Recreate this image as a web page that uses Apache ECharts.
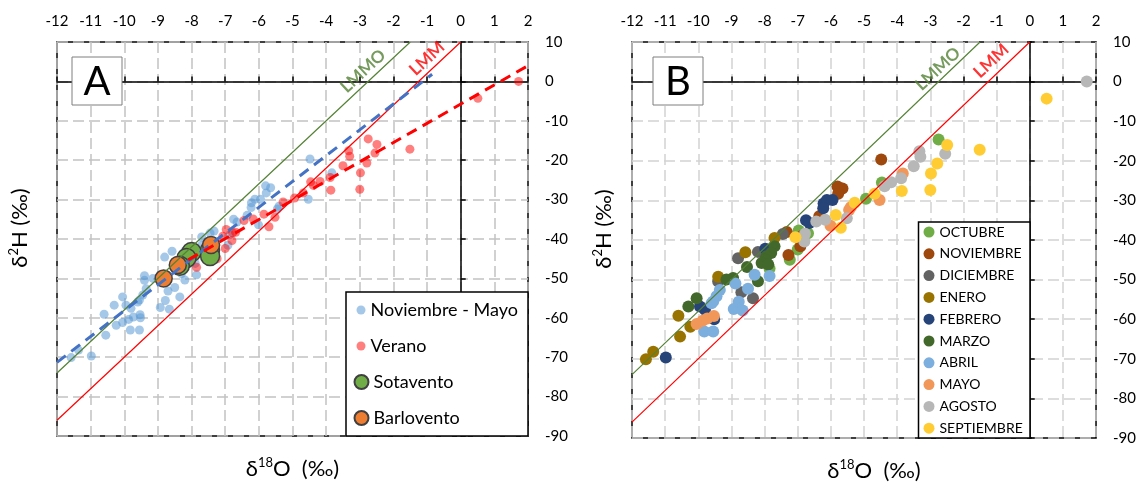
<!DOCTYPE html>
<html><head><meta charset="utf-8">
<script src="https://cdn.jsdelivr.net/npm/echarts@6/dist/echarts.min.js"></script>
<style>html,body{margin:0;padding:0;background:#fff}#c{width:1139px;height:490px}</style>
</head><body><div id="c"></div>
<script>
// ---- tick labels ----
const xTickLabels = [-12,-11,-10,-9,-8,-7,-6,-5,-4,-3,-2,-1,0,1,2];
const yTickLabels = [10,0,-10,-20,-30,-40,-50,-60,-70,-80,-90];

// ---- panel B monthly data [d18O, d2H] ----
const OCTUBRE = [[-2.75,-14.6],[-4.46,-25.5],[-4.94,-29.6],[-6.97,-37.6],[-6.69,-38.3],[-7.0,-42.4],[-7.24,-45.0],[-7.85,-47.2]];
const NOVIEMBRE = [[-4.48,-19.7],[-5.8,-26.5],[-5.65,-27.0],[-5.78,-28.3],[-6.35,-34.0],[-7.33,-38.0],[-6.86,-38.9],[-6.92,-41.6],[-7.28,-43.8]];
const DICIEMBRE = [[-7.45,-38.5],[-8.2,-43.0],[-8.8,-44.6],[-9.4,-50.5],[-8.7,-53.2],[-8.35,-54.7]];
const ENERO = [[-7.7,-39.5],[-8.58,-43.1],[-9.4,-49.3],[-10.6,-59.1],[-10.24,-61.9],[-10.55,-64.4],[-11.36,-68.2],[-11.58,-70.1]];
const FEBRERO = [[-6.22,-30.8],[-6.12,-29.9],[-5.95,-29.9],[-6.23,-32.0],[-6.75,-35.0],[-6.65,-35.7],[-7.98,-42.2],[-9.95,-56.8],[-9.8,-57.6],[-9.52,-60.0],[-10.98,-69.7]];
const MARZO = [[-7.7,-41.6],[-7.8,-43.3],[-7.94,-44.1],[-7.99,-45.0],[-8.09,-45.8],[-7.89,-46.2],[-8.53,-46.8],[-8.2,-50.4],[-8.95,-49.6],[-9.15,-50.0],[-10.05,-54.7],[-10.3,-56.8]];
const ABRIL = [[-8.3,-48.8],[-7.85,-49.1],[-8.88,-51.0],[-8.5,-52.3],[-9.35,-52.6],[-9.45,-54.2],[-9.55,-55.5],[-9.6,-56.0],[-8.78,-55.6],[-8.93,-57.4],[-8.66,-57.8],[-9.82,-63.1],[-9.55,-63.1]];
const MAYO = [[-10.05,-61.2],[-9.87,-60.4],[-9.73,-59.8],[-9.53,-59.2],[-6.01,-36.4],[-5.45,-32.4],[-5.4,-31.7],[-4.53,-29.9],[-3.83,-23.2]];
const AGOSTO = [[1.72,0.0],[-3.33,-17.6],[-3.3,-19.0],[-2.55,-18.2],[-3.5,-21.4],[-3.88,-24.4],[-4.18,-25.4],[-4.38,-26.4],[-5.52,-34.5],[-6.17,-34.9],[-6.44,-35.3],[-6.8,-40.4],[-6.78,-38.4]];
const SEPTIEMBRE = [[0.51,-4.3],[-2.49,-16.0],[-1.51,-17.2],[-2.79,-20.7],[-2.98,-23.2],[-3.0,-27.4],[-3.86,-27.6],[-4.68,-28.3],[-5.28,-30.6],[-5.85,-33.7],[-5.7,-36.9],[-7.07,-39.3]];

// ---- panel A: station means ----
const sotavento = [[-8.0,-43.3],[-8.15,-44.8],[-8.35,-46.8],[-7.45,-42.8],[-7.45,-44.3]];
const barlovento = [[-8.83,-50.0],[-8.41,-46.6],[-7.42,-41.5]];

// ---- lines (end points) ----
const lmmLine = [[-12,-86],[0,10]];
const lmmoLine = [[-12,-74],[-1.5,10]];
const novMayoFit = [[-12,-71.3],[-0.85,1.8]];
const veranoFit = [[-8.1,-45.3],[2,4.0]];
const labelPosA = {LMMO:[-2.9,2.6], LMM:[-1.0,5.8]};
const labelPosB = {LMMO:[-2.77,3.2], LMM:[-1.16,5.2]};

const months = ['OCTUBRE','NOVIEMBRE','DICIEMBRE','ENERO','FEBRERO','MARZO','ABRIL','MAYO','AGOSTO','SEPTIEMBRE'];
const monthData = [OCTUBRE,NOVIEMBRE,DICIEMBRE,ENERO,FEBRERO,MARZO,ABRIL,MAYO,AGOSTO,SEPTIEMBRE];
const monthColors = ['#70AD47','#9E480E','#636363','#997300','#264478','#43682B','#7CAFDD','#F1975A','#B7B7B7','#FFCD33'];

const novMayoA = [].concat(NOVIEMBRE,DICIEMBRE,ENERO,FEBRERO,MARZO,ABRIL,MAYO);
const veranoA = [].concat(OCTUBRE,AGOSTO,SEPTIEMBRE);

const FONT = 'Lato, "Noto Sans", "DejaVu Sans", sans-serif';
const xMin = xTickLabels[0], xMax = xTickLabels[xTickLabels.length-1];
const yMax = yTickLabels[0], yMin = yTickLabels[yTickLabels.length-1];

const grids = [
  {left:57, top:42, width:471, height:394, show:true, borderColor:'#000', borderWidth:1.5, backgroundColor:'transparent'},
  {left:632, top:42, width:465, height:396, show:true, borderColor:'#000', borderWidth:1.5, backgroundColor:'transparent'}
];
const gridColor = ['#c2c2c2','#d2d2d2'];
const xNamePad = [[0,0,0,0],[0,0,0,20]];
const yNameGap = [24, 15];

const xAxes = [], yAxes = [];
const xName = '{a|δ}{s|18}{a|O  (‰)}';
const yName = '{a|δ}{s|2}{a|H (‰)}';
const richName = {a:{fontSize:22, lineHeight:26, fontFamily:FONT, color:'#000'}, s:{fontSize:13, lineHeight:15, verticalAlign:'top', fontFamily:FONT, color:'#000'}};
for (let g=0; g<2; g++) {
  xAxes.push({gridIndex:g, type:'value', min:xMin, max:xMax, interval:1, position:'top',
    axisLine:{show:false, onZero:false}, axisTick:{show:false},
    axisLabel:{fontSize:15, color:'#000', margin:13, fontFamily:FONT},
    splitLine:{show:true, lineStyle:{type:[11,5], color:gridColor[g], width:1.5}}});
  xAxes.push({gridIndex:g, type:'value', min:xMin, max:xMax, interval:1, position:'top',
    axisLine:{show:true, onZero:true, lineStyle:{color:'#000', width:1.5}},
    axisTick:{show:true, length:5, inside:false, lineStyle:{color:'#000', width:1.5}},
    axisLabel:{show:false}, splitLine:{show:false}});
  xAxes.push({gridIndex:g, type:'value', min:xMin, max:xMax, position:'bottom',
    axisLine:{show:false, onZero:false}, axisTick:{show:false}, axisLabel:{show:false}, splitLine:{show:false},
    name:xName, nameLocation:'middle', nameGap:20,
    nameTextStyle:{rich:richName, padding:xNamePad[g]}});
  yAxes.push({gridIndex:g, type:'value', min:yMin, max:yMax, interval:10, position:'right',
    axisLine:{show:false, onZero:false}, axisTick:{show:false},
    axisLabel:{fontSize:15, color:'#000', margin:17, fontFamily:FONT},
    splitLine:{show:true, lineStyle:{type:[11,5], color:gridColor[g], width:1.5}}});
  yAxes.push({gridIndex:g, type:'value', min:yMin, max:yMax, interval:10, position:'right',
    axisLine:{show:true, onZero:true, lineStyle:{color:'#000', width:1.5}},
    axisTick:{show:true, length:5, lineStyle:{color:'#000', width:1.5}},
    axisLabel:{show:false}, splitLine:{show:false}});
  yAxes.push({gridIndex:g, type:'value', min:yMin, max:yMax, position:'left',
    axisLine:{show:false, onZero:false}, axisTick:{show:false}, axisLabel:{show:false}, splitLine:{show:false},
    name:yName, nameLocation:'middle', nameGap:yNameGap[g], nameRotate:90,
    nameTextStyle:{rich:richName, padding:[0,0,0,22]}});
}

function lineSeries(g, data, color, width, dash, z) {
  return {type:'line', xAxisIndex:g*3, yAxisIndex:g*3, data:data, symbol:'none', silent:true,
    lineStyle:{color:color, width:width, type:dash}, z:z, animation:false};
}
function textSeries(g, pos, text, color) {
  return {type:'scatter', xAxisIndex:g*3, yAxisIndex:g*3, data:[pos], symbolSize:0, silent:true, z:6,
    label:{show:true, position:'inside', formatter:text, rotate:43, color:color, fontWeight:'bold', fontSize:17, fontFamily:FONT}};
}

const series = [];
// Panel A
series.push({name:'Noviembre - Mayo', type:'scatter', xAxisIndex:0, yAxisIndex:0, data:novMayoA, symbolSize:9,
  itemStyle:{color:'rgba(91,155,213,0.55)', opacity:1}, z:2});
series.push({name:'Verano', type:'scatter', xAxisIndex:0, yAxisIndex:0, data:veranoA, symbolSize:9,
  itemStyle:{color:'rgba(255,0,0,0.5)', opacity:1}, z:2});
series.push({name:'Sotavento', type:'scatter', xAxisIndex:0, yAxisIndex:0, data:sotavento, symbolSize:19,
  itemStyle:{color:'#70AD47', borderColor:'#404040', borderWidth:1.5, opacity:1}, z:3});
series.push({name:'Barlovento', type:'scatter', xAxisIndex:0, yAxisIndex:0, data:barlovento, symbolSize:17,
  itemStyle:{color:'#ED7D31', borderColor:'#404040', borderWidth:1.5, opacity:1}, z:3});
series.push(lineSeries(0, lmmLine, '#FF0000', 1.2, 'solid', 4));
series.push(lineSeries(0, lmmoLine, '#548235', 1.2, 'solid', 4));
series.push(lineSeries(0, novMayoFit, '#4472C4', 3, [11,7], 5));
series.push(lineSeries(0, veranoFit, '#FF0000', 3, [11,7], 5));
series.push(textSeries(0, labelPosA.LMMO, 'LMMO', '#548235'));
series.push(textSeries(0, labelPosA.LMM, 'LMM', '#FF0000'));
// Panel B
months.forEach((m,i) => series.push({name:m, type:'scatter', xAxisIndex:3, yAxisIndex:3, data:monthData[i], symbolSize:12,
  itemStyle:{color:monthColors[i], opacity:1}, z:2}));
series.push(lineSeries(1, lmmLine, '#FF0000', 1.2, 'solid', 4));
series.push(lineSeries(1, lmmoLine, '#548235', 1.2, 'solid', 4));
series.push(textSeries(1, labelPosB.LMMO, 'LMMO', '#548235'));
series.push(textSeries(1, labelPosB.LMM, 'LMM', '#FF0000'));

const legendText = {color:'#000', fontFamily:FONT};
const option = {
  animation:false,
  backgroundColor:'#fff',
  grid: grids,
  xAxis: xAxes,
  yAxis: yAxes,
  legend: [
    {data:['Noviembre - Mayo','Verano'], orient:'vertical', left:356.5, top:300, padding:0, itemWidth:9, itemHeight:9, itemGap:16,
     selectedMode:false, z:11, textStyle:Object.assign({fontSize:18, lineHeight:20}, legendText)},
    {data:['Sotavento','Barlovento'], orient:'vertical', left:353.5, top:372, padding:0, itemWidth:14, itemHeight:14, itemGap:16,
     selectedMode:false, z:11, textStyle:Object.assign({fontSize:18, lineHeight:20}, legendText)},
    {data:months, orient:'vertical', left:923.5, top:224, padding:0, itemWidth:11, itemHeight:11, itemGap:5.8,
     selectedMode:false, z:11, textStyle:Object.assign({fontSize:14, lineHeight:16}, legendText)}
  ],
  graphic: [
    {type:'rect', z:10, shape:{x:72, y:57, width:50, height:48}, style:{fill:'#fff', stroke:'#7f7f7f', lineWidth:1}},
    {type:'text', z:10, x:97, y:82, style:{text:'A', fontSize:40, fontFamily:FONT, fill:'#000', align:'center', verticalAlign:'middle'}},
    {type:'rect', z:10, shape:{x:653, y:57, width:50, height:48}, style:{fill:'#fff', stroke:'#7f7f7f', lineWidth:1}},
    {type:'text', z:10, x:678, y:82, style:{text:'B', fontSize:40, fontFamily:FONT, fill:'#000', align:'center', verticalAlign:'middle'}},
    {type:'rect', z:10, shape:{x:346, y:292, width:182, height:144}, style:{fill:'#fff', stroke:'#000', lineWidth:1.5}},
    {type:'rect', z:10, shape:{x:918.5, y:222, width:111.5, height:216}, style:{fill:'#fff', stroke:'#000', lineWidth:1.5}}
  ],
  series: series
};
const chart = echarts.init(document.getElementById('c'), null, {renderer:'canvas'});
chart.setOption(option);
</script></body></html>
